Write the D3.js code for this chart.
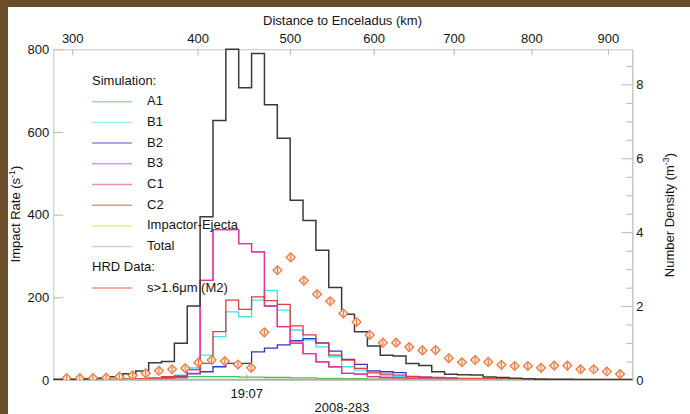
<!DOCTYPE html>
<html><head><meta charset="utf-8">
<script src="https://cdn.jsdelivr.net/npm/d3@7"></script>
<style>
body{margin:0;background:#fff}
svg text{font-family:"Liberation Sans",Arial,Helvetica,sans-serif;font-size:13px;fill:#151515}
</style></head><body>
<svg id="c" width="690" height="414"></svg>
<script>
// ---------------- data ----------------
const seriesNames = ["A1","B1","B2","B3","C1","C2","Impactor-Ejecta","Total"];
// impact rate (s^-1) per 1-s bin, 46 bins
const A1 = [0,0,0,0,0,0,1,1,2,4,6,8,8,8,8,7,7,6,6,5,5,4,4,3,3,2,2,2,2,1,1,1,1,1,1,1,1,1,1,1,1,1,1,1,1,1];
const B1 = [0,0,0,0,1,1,2,3,5,8,12,29,60,105,165,153,193,217,169,121,97,80,56,32,24,16,12,9,7,5,4,3,2,2,1,1,1,1,1,1,0,0,0,0,0,0];
const B2 = [0,0,0,0,1,1,2,3,4,5,8,15,20,32,40,40,68,77,85,95,100,90,70,50,38,22,20,18,8,7,5,4,3,2,1,1,1,1,1,1,1,0,0,0,0,0];
const B3 = [0,0,0,0,0,0,1,1,2,3,6,25,241,364,364,330,310,179,129,89,64,44,32,16,14,8,6,5,4,3,2,1,1,1,1,1,1,0,0,0,0,0,0,0,0,0];
const C1 = [0,0,0,0,0,0,1,1,2,3,6,25,241,364,364,330,310,179,129,89,64,44,32,16,14,8,6,5,4,3,2,1,1,1,1,1,1,0,0,0,0,0,0,0,0,0];
const C2 = [1,1,1,1,1,2,2,3,4,8,10,16,40,117,193,171,201,192,183,131,109,89,60,48,28,19,14,12,9,7,6,5,4,4,3,3,2,2,2,1,1,1,1,1,1,1];
const impactorEjecta = [1,1,1,1,1,1,1,1,1,1,1,1,1,1,1,1,1,1,1,1,1,1,1,1,1,1,1,1,1,1,1,1,1,1,1,1,1,1,1,1,1,1,1,1,1,1];
const Total = [2,2,2,3,4,8,15,22,42,45,89,179,395,628,800,707,790,666,585,435,386,314,224,159,117,82,60,58,40,35,20,14,13,12,7,6,4,3,2,2,2,1,1,1,1,1];
// HRD number density (m^-3), s>1.6um (M2)
const hrdDensity = [0.05,0.05,0.05,0.06,0.09,0.12,0.18,0.25,0.29,0.32,0.47,0.54,0.51,0.42,0.33,1.29,2.97,3.32,2.69,2.32,2.13,1.80,1.57,1.22,1.01,1.01,0.89,0.80,0.81,0.59,0.48,0.54,0.49,0.41,0.38,0.38,0.33,0.39,0.39,0.29,0.29,0.23,0.16];
const hrdLabel = "s>1.6μm (M2)";
// ticks
const rateTicks = [0,200,400,600,800];
const densityTicks = [0,2,4,6,8];
const densityMinorTicks = [0.5,1,1.5,2.5,3,3.5,4.5,5,5.5,6.5,7,7.5,8.5];
const distanceTicks = [300,400,500,600,700,800,900];
const timeTicks = ["2008-10-09T19:07:00Z"];
const dateLabel = "2008-283";

// ------------- time / geometry model -------------
const ref = Date.parse("2008-10-09T19:07:00Z");
const binStartSec = -15.59, binWidthSec = 1;      // histogram bins (s from 19:07)
const hrdStartSec = -13.96, hrdStepSec = 1.024;   // HRD sampling
const caSec = -20, d0 = 277, vRel = 17.8;          // closest approach model for top axis
const sec = s => new Date(ref + s*1000);
const distToTime = d => sec(caSec + Math.sqrt(d*d - d0*d0)/vRel);

// ------------- drawing -------------
const svg = d3.select("#c");
svg.append("rect").attr("width",690).attr("height",414).attr("fill","#6b4d2c");
svg.append("rect").attr("x",8).attr("y",7).attr("width",682).attr("height",407).attr("fill","#fff");

const L = 53.3, R = 632.3, T = 49.3, B = 380;
const x = d3.scaleUtc().domain([sec(-15), sec(30)]).range([L, R]);
const yL = d3.scaleLinear().domain([0,800]).range([B, T]);
const yR = d3.scaleLinear().domain([0,8.95]).range([B, T]);

const axisColor = "#c4c4c4";
function styleAxis(g){
  g.select(".domain").attr("stroke", axisColor);
  g.selectAll(".tick line").attr("stroke", "#b8b8b8");
  g.selectAll(".tick text").attr("fill","#151515").style("font-size","13px")
   .style("font-family",'"Liberation Sans",Arial,sans-serif');
}
// left
svg.append("g").attr("transform",`translate(${L},0)`)
  .call(d3.axisLeft(yL).tickValues(rateTicks).tickSize(-10).tickSizeOuter(0).tickPadding(4))
  .call(styleAxis);
// right
svg.append("g").attr("transform",`translate(${R},0)`)
  .call(d3.axisRight(yR).tickValues(densityMinorTicks).tickSize(-6).tickSizeOuter(0).tickFormat(""))
  .call(styleAxis);
svg.append("g").attr("transform",`translate(${R},0)`)
  .call(d3.axisRight(yR).tickValues(densityTicks).tickSize(-11).tickSizeOuter(0).tickPadding(4))
  .call(styleAxis);
// top (distance)
svg.append("g").attr("transform",`translate(0,${T})`)
  .call(d3.axisTop(x).tickValues(distanceTicks.map(distToTime)).tickFormat((d,i)=>distanceTicks[i])
        .tickSize(-6).tickSizeOuter(0).tickPadding(6))
  .call(styleAxis);
// bottom (time)
svg.append("g").attr("transform",`translate(0,${B})`)
  .call(d3.axisBottom(x).tickValues(timeTicks.map(d=>new Date(d))).tickFormat(d3.utcFormat("%H:%M"))
        .tickSize(-6).tickSizeOuter(0).tickPadding(9))
  .call(styleAxis);

// titles
svg.append("text").attr("x",342.5).attr("y",25).attr("text-anchor","middle").text("Distance to Enceladus (km)");
svg.append("text").attr("x",342).attr("y",412).attr("text-anchor","middle").text(dateLabel);
const lt = svg.append("text").attr("transform","translate(20,214) rotate(-90)").attr("text-anchor","middle");
lt.append("tspan").text("Impact Rate (s");
lt.append("tspan").attr("dy",-5).style("font-size","9px").text("-1");
lt.append("tspan").attr("dy",5).text(")");
const rt = svg.append("text").attr("transform","translate(674,215) rotate(-90)").attr("text-anchor","middle");
rt.append("tspan").text("Number Density (m");
rt.append("tspan").attr("dy",-5).style("font-size","9px").text("-3");
rt.append("tspan").attr("dy",5).text(")");

// clip
svg.append("clipPath").attr("id","clip").append("rect")
  .attr("x",L).attr("y",T-1.5).attr("width",R-L).attr("height",B-T+1.5);
const plot = svg.append("g").attr("clip-path","url(#clip)");

const seriesData = [A1,B1,B2,B3,C1,C2,impactorEjecta,Total];
const plotColors = ["#3fc46a","#3ee3ef","#3434c8","#e23fc4","#e6358f","#e03a42","#c9b832","#3a3a3a"];
const legendColors = ["#8fe3b0","#9ef2f8","#8a8ae0","#f38ee0","#f28cbc","#f29090","#e8e890","#cfcfcf"];
const widths = [1.3,1.3,1.3,1.3,1.3,1.3,1.6,1.5];

const line = d3.line().x(d=>x(d.t)).y(d=>yL(d.v)).curve(d3.curveStepAfter);
function stepPts(vals){
  const pts = vals.map((v,k)=>({t: sec(binStartSec + k*binWidthSec), v}));
  pts.push({t: sec(binStartSec + vals.length*binWidthSec), v: vals[vals.length-1]});
  return pts;
}
seriesData.forEach((vals,i)=>{
  plot.append("path").datum(stepPts(vals)).attr("d",line)
    .attr("fill","none").attr("stroke",plotColors[i]).attr("stroke-width",widths[i])
    .attr("stroke-linejoin","miter");
});

// HRD diamonds
const hrdColor = "#e8743a";
const diamond = d3.symbol().type(d3.symbolSquare).size(40);
const dg = plot.selectAll("g.hrd").data(hrdDensity).join("g")
  .attr("transform",(d,i)=>`translate(${x(sec(hrdStartSec + i*hrdStepSec))},${yR(d)})`);
dg.append("path").attr("d",diamond).attr("transform","rotate(45)")
  .attr("fill","#fde3d2").attr("stroke",hrdColor).attr("stroke-width",1.2);
dg.append("line").attr("y1",-3).attr("y2",3).attr("stroke",hrdColor).attr("stroke-width",1);

// legend
const lg = svg.append("g");
const rowY = i => 80 + i*20.7;
lg.append("text").attr("x",92).attr("y",rowY(0)+4.5).text("Simulation:");
seriesNames.forEach((n,i)=>{
  const y = rowY(i+1);
  lg.append("line").attr("x1",92).attr("x2",132).attr("y1",y+1).attr("y2",y+1)
    .attr("stroke",legendColors[i]).attr("stroke-width",1.5);
  lg.append("text").attr("x",147).attr("y",y+4.5).text(n);
});
lg.append("text").attr("x",92).attr("y",rowY(9)+4.5).text("HRD Data:");
lg.append("line").attr("x1",92).attr("x2",132).attr("y1",rowY(10)+1).attr("y2",rowY(10)+1)
  .attr("stroke","#f09080").attr("stroke-width",1.5);
lg.append("text").attr("x",147).attr("y",rowY(10)+4.5).text(hrdLabel);
</script>
</body></html>
